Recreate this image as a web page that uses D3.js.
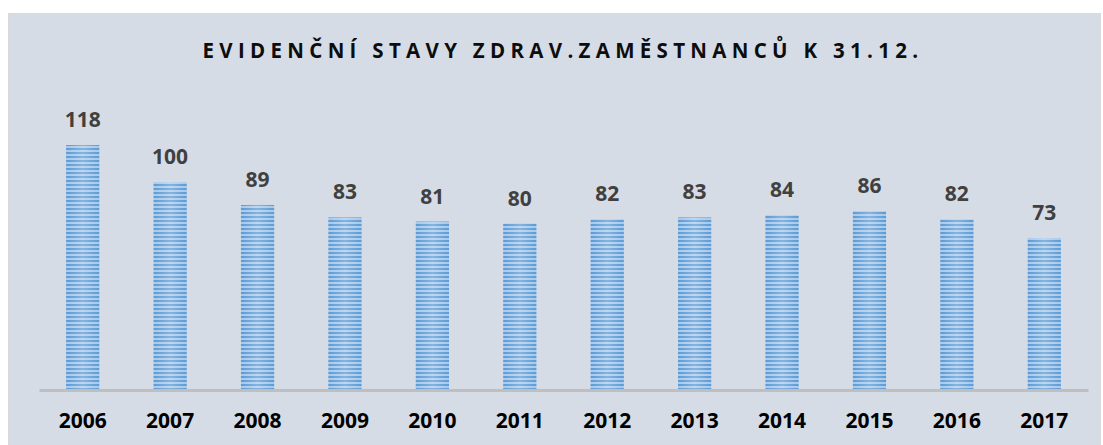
<!DOCTYPE html>
<html>
<head>
<meta charset="utf-8">
<script src="https://cdn.jsdelivr.net/npm/d3@7"></script>
<style>
  body { margin: 0; background: #ffffff; }
</style>
</head>
<body>
<div id="chart"></div>
<script>
// evidenční stavy zdrav. zaměstnanců k 31.12.
var years = ['2006', '2007', '2008', '2009', '2010', '2011', '2012', '2013', '2014', '2015', '2016', '2017'];
var staff = [118, 100, 89, 83, 81, 80, 82, 83, 84, 86, 82, 73];
var title = 'EVIDENČNÍ STAVY ZDRAV.ZAMĚSTNANCŮ K 31.12.';

var W = 1103, H = 445;
var font = "'Open Sans', 'Liberation Sans', sans-serif";

var svg = d3.select('#chart')
  .append('svg')
  .attr('width', W)
  .attr('height', H);

// stripes for the bars
var defs = svg.append('defs');
var pat = defs.append('pattern')
  .attr('id', 'stripes')
  .attr('patternUnits', 'userSpaceOnUse')
  .attr('width', 8)
  .attr('height', 4);
pat.append('rect').attr('width', 8).attr('height', 4).attr('fill', '#a8c9ec');
pat.append('rect').attr('y', 0).attr('width', 8).attr('height', 2).attr('fill', '#5b9bd5');

var shine = defs.append('linearGradient')
  .attr('id', 'shine')
  .attr('x1', 0).attr('x2', 1).attr('y1', 0).attr('y2', 0);
shine.append('stop').attr('offset', '0%').attr('stop-color', '#ffffff').attr('stop-opacity', 0);
shine.append('stop').attr('offset', '50%').attr('stop-color', '#ffffff').attr('stop-opacity', 0.25);
shine.append('stop').attr('offset', '100%').attr('stop-color', '#ffffff').attr('stop-opacity', 0);

// background panel
svg.append('rect')
  .attr('x', 8.5)
  .attr('y', 13.5)
  .attr('width', 1092)
  .attr('height', 440)
  .attr('fill', '#d6dce5')
  .attr('stroke', '#d9d9d9')
  .attr('stroke-width', 1);

var x = d3.scaleBand()
  .domain(years)
  .range([39, 1088])
  .paddingInner(0.62)
  .paddingOuter(0.31);

var y = d3.scaleLinear()
  .domain([0, 118])
  .range([389, 145]);

svg.append('text')
  .attr('x', 563)
  .attr('y', 58)
  .attr('text-anchor', 'middle')
  .style('font-family', font)
  .style('font-size', '20.5px')
  .style('font-weight', 'bold')
  .style('letter-spacing', '5.3px')
  .attr('fill', '#0d0d0d')
  .text(title);

var bars = svg.append('g');
bars.selectAll('rect.bar')
  .data(staff)
  .enter()
  .append('rect')
  .attr('class', 'bar')
  .attr('x', function(d, i) { return x(years[i]); })
  .attr('y', function(d) { return y(d); })
  .attr('width', x.bandwidth())
  .attr('height', function(d) { return y(0) - y(d); })
  .attr('fill', 'url(#stripes)');

bars.selectAll('rect.shine')
  .data(staff)
  .enter()
  .append('rect')
  .attr('class', 'shine')
  .attr('x', function(d, i) { return x(years[i]); })
  .attr('y', function(d) { return y(d); })
  .attr('width', x.bandwidth())
  .attr('height', function(d) { return y(0) - y(d); })
  .attr('fill', 'url(#shine)');

// value labels
svg.selectAll('text.val')
  .data(staff)
  .enter()
  .append('text')
  .attr('class', 'val')
  .attr('x', function(d, i) { return x(years[i]) + x.bandwidth() / 2; })
  .attr('y', function(d) { return y(d) - 18; })
  .attr('text-anchor', 'middle')
  .style('font-family', font)
  .style('font-size', '21px')
  .style('font-weight', 'bold')
  .attr('fill', '#404040')
  .text(function(d) { return d; });

// x axis
var xAxis = svg.append('g')
  .attr('transform', 'translate(0,' + 390 + ')')
  .call(d3.axisBottom(x).tickSize(0).tickPadding(23));
xAxis.select('.domain')
  .attr('stroke', '#bfbfbf')
  .attr('stroke-width', 3);
xAxis.selectAll('text')
  .style('font-family', font)
  .style('font-size', '21px')
  .style('font-weight', 'bold')
  .attr('fill', '#000000');
</script>
</body>
</html>
